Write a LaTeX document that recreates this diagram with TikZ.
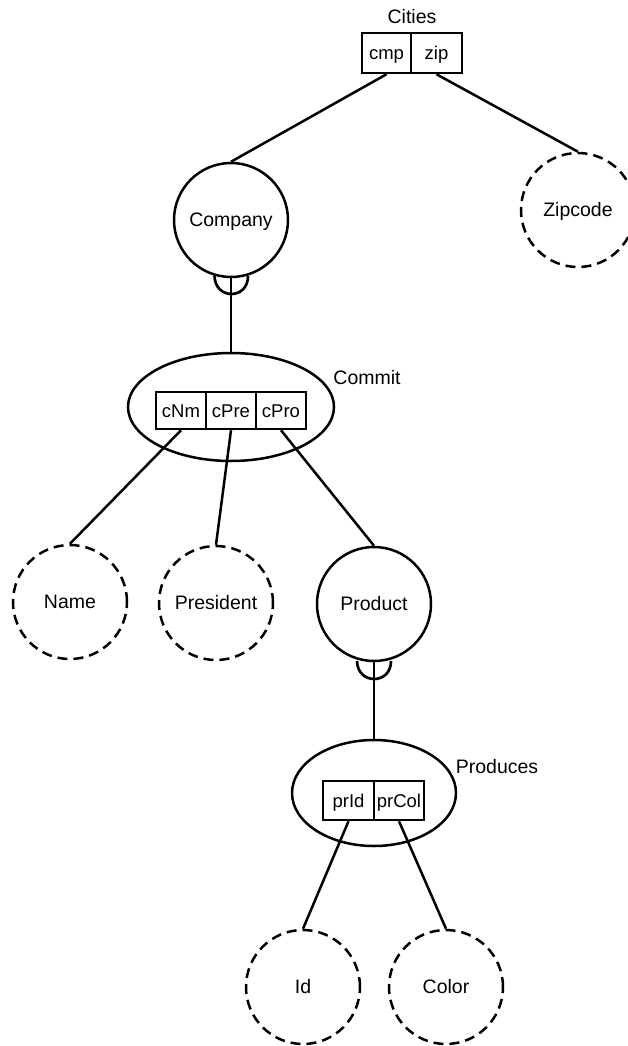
\documentclass[tikz,border=0pt]{standalone}
\usepackage{fontspec}
\setmainfont{Liberation Sans}
\usetikzlibrary{shapes.geometric}
\begin{document}
\begin{tikzpicture}[x=1pt,y=-1pt,
  line width=2.5pt,
  every node/.style={font=\fontsize{19.5}{22}\selectfont,text height=16pt,text depth=3pt},
  entity/.style={circle,draw,minimum size=114pt,inner sep=0pt},
  attr/.style={entity,dashed,dash pattern=on 10pt off 6pt},
  rel/.style={ellipse,draw,inner sep=0pt},
  cell/.style={rectangle,draw,inner sep=0pt,minimum height=#1,font=\fontsize{18.5}{22}\selectfont},
  lbl/.style={inner sep=0pt},
  foot/.style={line width=2.7pt}]
\useasboundingbox (0,0) rectangle (628,1046);

% Cities: a bare relationship table
\node[lbl] (citieslbl) at (412,17) {Cities};
\node[cell=40pt,minimum width=49pt] (cmp) at (386.5,53) {cmp};
\node[cell=40pt,minimum width=51pt] (zip) at (436.5,53) {zip};

% Entities and attributes of the first level
\node[entity] (company) at (231,220) {Company};
\node[attr] (zipcode) at (578,210) {Zipcode};
\draw (cmp.south) -- (company.north);
\draw (zip.south) -- (zipcode.north);

% Commit relationship
\node[rel,minimum width=206pt,minimum height=108pt] (commit) at (231,407) {};
\node[lbl] (commitlbl) at (367,378) {Commit};
\node[cell=37pt,minimum width=50pt] (cnm) at (181,410.5) {cNm};
\node[cell=37pt,minimum width=50pt] (cpre) at (231,410.5) {cPre};
\node[cell=37pt,minimum width=50pt] (cpro) at (281,410.5) {cPro};

% one-or-many mark between Company and Commit
\draw (company.south) -- (commit.north);
\draw[foot] (214.5,276) .. controls (215,300) and (248,300) .. (248,276);

% Attributes of Commit
\node[attr] (name) at (70,602) {Name};
\node[attr] (president) at (216,603) {President};
\node[entity] (product) at (374,604) {Product};
\draw (cnm.south) -- (name.north);
\draw (cpre.south) -- (president.north);
\draw (cpro.south) -- (product.north);

% Produces relationship
\node[rel,minimum width=164pt,minimum height=106pt] (produces) at (374,793) {};
\node[lbl] (produceslbl) at (497,767) {Produces};
\node[cell=39pt,minimum width=51pt] (prid) at (348.5,800.5) {prId};
\node[cell=39pt,minimum width=50pt] (prcol) at (399,800.5) {prCol};

% one-or-many mark between Product and Produces
\draw (product.south) -- (produces.north);
\draw[foot] (357,661) .. controls (357.5,685) and (391,685) .. (391,661);

% Attributes of Produces
\node[attr] (id) at (303,987) {Id};
\node[attr] (color) at (446,987) {Color};
\draw (prid.south) -- (id.north);
\draw (prcol.south) -- (color.north);
\end{tikzpicture}
\end{document}
